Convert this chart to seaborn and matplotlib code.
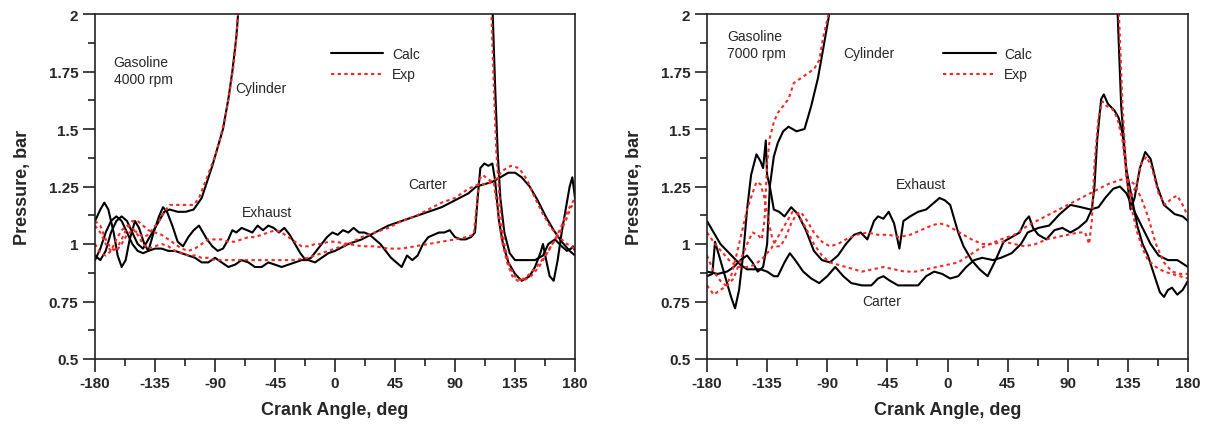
import numpy as np
import pandas as pd
import matplotlib
matplotlib.use("Agg")
import matplotlib.pyplot as plt
import seaborn as sns
from matplotlib.lines import Line2D
from matplotlib.ticker import MultipleLocator, FuncFormatter

# ---------------- data ----------------
# ---- 4000 rpm ----
l_cyl_calc_a = [-180, -176, -172, -168, -164, -160, -156, -152, -148, -144, -140, -136, -132, -128, -124, -118, -112, -106, -100, -96, -92, -88, -84, -80, -77, -74, -72,
                118, 120, 122, 124, 127, 131, 135, 142, 150, 156, 160, 165, 170, 174, 177, 178.5, 180]
l_cyl_calc_p = [0.95, 0.93, 0.97, 1.05, 1.10, 1.12, 1.10, 1.05, 1.00, 0.98, 1.02, 1.06, 1.10, 1.14, 1.15, 1.14, 1.14, 1.15, 1.20, 1.27, 1.34, 1.42, 1.50, 1.63, 1.75, 1.90, 2.05,
                2.05, 1.70, 1.40, 1.20, 1.05, 0.96, 0.93, 0.93, 0.93, 0.95, 1.00, 1.02, 0.99, 0.97, 0.98, 0.99, 0.97]
l_cyl_exp_a = [-180, -176, -172, -168, -164, -160, -156, -152, -148, -144, -140, -136, -132, -128, -124, -118, -112, -106, -102, -98, -94, -90, -86, -82, -79, -76, -74, -72,
               117, 119, 121, 124, 127, 131, 136, 141, 147, 153, 158, 163, 168, 173, 177, 180]
l_cyl_exp_p = [1.10, 1.08, 1.02, 0.98, 0.97, 1.00, 1.04, 1.06, 1.05, 1.03, 1.04, 1.07, 1.10, 1.14, 1.17, 1.17, 1.17, 1.17, 1.20, 1.26, 1.32, 1.38, 1.46, 1.56, 1.66, 1.78, 1.90, 2.05,
               2.05, 1.70, 1.40, 1.15, 1.00, 0.90, 0.85, 0.84, 0.86, 0.90, 0.95, 1.00, 1.04, 1.10, 1.16, 1.18]
l_exh_calc_a = [-180, -176, -173, -170, -166, -163, -160, -157, -154, -150, -147, -143, -140, -136, -132, -129, -126, -122, -118, -114, -110, -106, -102, -99, -96, -92, -88, -84,
                -80, -77, -74, -70, -66, -62, -58, -54, -50, -46, -42, -38, -34, -30, -26, -22, -18, -14, -10, -6, -2, 2, 6, 10, 14, 18, 22, 26, 30, 34, 38, 42, 46, 50,
                54, 58, 62, 66, 70, 74, 78, 82, 86, 90, 94, 98, 102, 105, 107, 109, 112, 115, 118, 120, 123, 126, 130, 135, 140, 146, 150, 154, 156, 158, 161, 164,
                167, 170, 173, 176, 178, 180]
l_exh_calc_p = [1.10, 1.15, 1.18, 1.15, 1.05, 0.95, 0.90, 0.93, 1.02, 1.10, 1.07, 1.00, 0.97, 1.05, 1.12, 1.16, 1.14, 1.08, 1.01, 0.99, 1.03, 1.06, 1.08, 1.05, 1.02, 0.99, 0.97, 0.98,
                1.02, 1.06, 1.05, 1.07, 1.06, 1.05, 1.08, 1.06, 1.08, 1.07, 1.05, 1.07, 1.04, 1.00, 0.96, 0.93, 0.94, 0.97, 1.00, 1.03, 1.05, 1.04, 1.06, 1.05, 1.07, 1.05, 1.05, 1.04, 1.02, 1.00, 0.97, 0.94, 0.92, 0.90,
                0.95, 0.93, 0.95, 1.00, 1.03, 1.04, 1.05, 1.05, 1.06, 1.03, 1.02, 1.02, 1.03, 1.05, 1.20, 1.33, 1.35, 1.34, 1.35, 1.28, 1.10, 1.00, 0.92, 0.87, 0.84, 0.86, 0.90, 0.96, 1.00, 0.94, 0.86, 0.84,
                0.93, 1.05, 1.15, 1.25, 1.29, 1.20]
l_exh_exp_a = [-180, -176, -172, -168, -164, -160, -156, -152, -148, -144, -140, -135, -130, -125, -120, -115, -110, -105, -100, -95, -90, -85, -80, -75, -70, -65, -60, -55,
               -50, -45, -40, -35, -30, -25, -20, -15, -10, -5, 0, 10, 20, 30, 40, 50, 60, 70, 80, 90, 98, 104, 106, 108, 111, 115, 119, 122, 125, 129, 133, 137, 142,
               148, 154, 160, 165, 170, 175, 180]
l_exh_exp_p = [1.08, 1.05, 1.00, 0.97, 0.98, 1.02, 1.07, 1.10, 1.10, 1.08, 1.06, 1.05, 1.04, 1.02, 1.00, 0.98, 0.97, 0.98, 1.00, 1.02, 1.02, 1.02, 1.01, 1.01, 1.02, 1.03, 1.03, 1.04,
               1.05, 1.06, 1.05, 1.03, 1.01, 0.99, 0.99, 1.00, 1.00, 1.01, 1.01, 1.00, 0.99, 0.99, 0.98, 0.98, 0.99, 1.00, 1.01, 1.02, 1.03, 1.04, 1.15, 1.28, 1.30, 1.28, 1.27, 1.15, 1.02, 0.92, 0.86, 0.84, 0.85,
               0.88, 0.92, 0.97, 1.02, 1.08, 1.15, 1.20]
l_car_calc_a = [-180, -176, -172, -168, -164, -160, -156, -152, -148, -144, -140, -135, -130, -125, -120, -115, -110, -105, -100, -95, -90, -85, -80, -75, -70, -65, -60, -55,
                -50, -45, -40, -35, -30, -25, -20, -15, -10, -5, 0, 10, 20, 30, 40, 50, 60, 70, 80, 90, 100, 106, 112, 118, 124, 130, 135, 140, 146, 152, 158, 164,
                170, 176, 180]
l_car_calc_p = [0.93, 0.98, 1.05, 1.10, 1.12, 1.10, 1.05, 1.00, 0.97, 0.96, 0.97, 0.98, 0.98, 0.97, 0.97, 0.96, 0.95, 0.94, 0.92, 0.92, 0.94, 0.92, 0.90, 0.91, 0.93, 0.92, 0.90, 0.90,
                0.92, 0.91, 0.90, 0.91, 0.92, 0.93, 0.93, 0.92, 0.94, 0.96, 0.97, 1.00, 1.02, 1.05, 1.08, 1.10, 1.12, 1.14, 1.16, 1.19, 1.22, 1.25, 1.26, 1.27, 1.29, 1.31, 1.31, 1.29, 1.25, 1.19, 1.12, 1.06,
                1.01, 0.97, 0.95]
l_car_exp_a = [-180, -176, -172, -168, -164, -160, -156, -152, -148, -144, -140, -135, -130, -125, -120, -115, -110, -105, -100, -95, -90, -80, -70, -60, -50, -40, -30, -20,
               -10, 0, 10, 20, 30, 40, 50, 60, 70, 80, 90, 100, 108, 114, 120, 126, 132, 138, 144, 150, 156, 162, 168, 174, 180]
l_car_exp_p = [1.00, 0.96, 0.95, 0.97, 1.02, 1.06, 1.08, 1.07, 1.04, 1.00, 0.98, 0.99, 1.00, 0.99, 0.97, 0.96, 0.95, 0.95, 0.94, 0.94, 0.93, 0.93, 0.93, 0.93, 0.93, 0.93, 0.93, 0.94,
               0.96, 0.98, 1.00, 1.03, 1.05, 1.07, 1.10, 1.12, 1.15, 1.18, 1.20, 1.24, 1.26, 1.26, 1.28, 1.32, 1.34, 1.33, 1.28, 1.20, 1.13, 1.07, 1.03, 1.00, 0.98]

# ---- 7000 rpm ----
r_cyl_calc_a = [-180, -172, -165, -160, -155, -150, -146, -142, -138, -135, -133, -130, -127, -123, -119, -113, -107, -102, -97, -93, -90, -87,
                127, 130, 134, 137, 140, 144, 148, 152, 157, 162, 170, 176, 180]
r_cyl_calc_p = [0.88, 0.87, 0.88, 0.90, 0.93, 0.95, 0.92, 0.88, 0.90, 1.00, 1.25, 1.38, 1.44, 1.49, 1.51, 1.49, 1.50, 1.60, 1.72, 1.85, 1.95, 2.05,
                2.05, 1.60, 1.30, 1.15, 1.20, 1.33, 1.40, 1.37, 1.25, 1.17, 1.13, 1.12, 1.10]
r_cyl_exp_a = [-180, -175, -170, -165, -160, -155, -150, -146, -142, -139, -137, -135, -133, -130, -127, -123, -119, -115, -110, -105, -100, -96, -93, -89, -87,
               128, 131, 134, 137, 141, 145, 149, 153, 158, 163, 168, 172, 176, 180]
r_cyl_exp_p = [0.82, 0.78, 0.80, 0.82, 0.85, 0.93, 1.00, 1.05, 1.04, 1.02, 1.10, 1.35, 1.46, 1.53, 1.57, 1.60, 1.63, 1.70, 1.72, 1.74, 1.76, 1.80, 1.90, 2.00, 2.05,
               2.05, 1.60, 1.30, 1.20, 1.25, 1.35, 1.38, 1.33, 1.22, 1.17, 1.20, 1.21, 1.17, 1.12]
r_exh_calc_a = [-180, -176, -174, -171, -166, -162, -159, -156, -153, -150, -147, -143, -140, -138, -136, -135, -133, -130, -126, -122, -117, -112, -106, -100, -94, -88,
                -82, -76, -70, -65, -60, -55, -52, -48, -44, -40, -36, -33, -28, -22, -16, -10, -6, -2, 2, 8, 12, 18, 24, 30, 36, 42, 48, 54, 58, 61, 64, 68, 74, 80,
                86, 92, 98, 104, 108, 110, 112, 115, 117, 120, 125, 128, 131, 134, 138, 142, 146, 150, 155, 159, 162, 165, 168, 172, 176, 180]
r_exh_calc_p = [0.86, 0.87, 1.01, 0.95, 0.85, 0.77, 0.72, 0.80, 0.95, 1.15, 1.30, 1.39, 1.36, 1.33, 1.45, 1.30, 1.25, 1.15, 1.14, 1.12, 1.16, 1.13, 1.06, 0.97, 0.93, 0.92,
                0.95, 1.00, 1.04, 1.05, 1.02, 1.10, 1.12, 1.11, 1.14, 1.09, 0.98, 1.10, 1.12, 1.14, 1.15, 1.18, 1.20, 1.19, 1.17, 1.05, 0.99, 0.93, 0.89, 0.86, 0.93, 1.01, 1.03, 1.05, 1.10, 1.12, 1.07, 1.04, 1.02, 1.06,
                1.07, 1.05, 1.07, 1.10, 1.15, 1.25, 1.45, 1.63, 1.65, 1.61, 1.58, 1.55, 1.48, 1.32, 1.20, 1.08, 1.00, 0.95, 0.86, 0.79, 0.77, 0.80, 0.81, 0.78, 0.80, 0.84]
r_exh_exp_a = [-180, -175, -170, -166, -162, -158, -154, -150, -146, -143, -140, -137, -134, -131, -128, -125, -121, -117, -113, -110, -105, -100, -94, -88, -82, -76,
               -68, -60, -52, -44, -36, -28, -20, -12, -6, 0, 6, 12, 18, 26, 34, 42, 50, 58, 66, 74, 82, 90, 98, 103, 106, 108, 110, 113, 116, 119, 123, 127, 131, 134,
               138, 142, 146, 150, 156, 162, 168, 174, 180]
r_exh_exp_p = [0.95, 0.88, 0.84, 0.82, 0.86, 0.95, 1.05, 1.15, 1.22, 1.27, 1.26, 1.20, 1.10, 1.02, 0.99, 0.99, 1.03, 1.09, 1.13, 1.14, 1.10, 1.05, 1.01, 0.99, 1.00, 1.02,
               1.04, 1.05, 1.04, 1.04, 1.03, 1.04, 1.06, 1.08, 1.09, 1.08, 1.06, 1.04, 1.02, 1.00, 1.00, 1.01, 1.00, 0.99, 1.00, 1.02, 1.03, 1.04, 1.05, 1.05, 1.00, 1.10, 1.35, 1.55, 1.62, 1.60, 1.59, 1.55, 1.45, 1.30,
               1.15, 1.05, 0.98, 0.93, 0.90, 0.88, 0.87, 0.86, 0.85]
r_car_calc_a = [-180, -175, -170, -165, -160, -155, -150, -145, -140, -135, -130, -127, -122, -118, -114, -108, -102, -96, -90, -84, -78, -72, -64, -57, -52, -48, -43,
                -37, -30, -22, -16, -10, -4, 2, 8, 14, 20, 26, 34, 40, 48, 55, 60, 68, 76, 84, 92, 100, 107, 113, 118, 124, 129, 134, 140, 146, 152, 158, 165, 172, 180]
r_car_calc_p = [1.10, 1.05, 1.00, 0.97, 0.94, 0.91, 0.89, 0.89, 0.89, 0.88, 0.86, 0.86, 0.92, 0.96, 0.93, 0.88, 0.85, 0.83, 0.86, 0.90, 0.86, 0.83, 0.82, 0.82, 0.85, 0.86, 0.84,
                0.82, 0.82, 0.82, 0.86, 0.88, 0.87, 0.85, 0.86, 0.90, 0.93, 0.94, 0.93, 0.94, 0.96, 1.00, 1.05, 1.07, 1.08, 1.13, 1.17, 1.16, 1.15, 1.16, 1.20, 1.24, 1.25, 1.22, 1.14, 1.07, 1.00, 0.95, 0.93, 0.93, 0.90]
r_car_exp_a = [-180, -174, -168, -162, -156, -150, -144, -138, -132, -126, -120, -116, -112, -106, -100, -94, -88, -82, -76, -70, -64, -56, -48, -40, -32, -24, -16, -8,
               0, 8, 16, 24, 32, 40, 50, 60, 70, 80, 90, 100, 110, 120, 130, 135, 140, 145, 150, 156, 162, 168, 174, 180]
r_car_exp_p = [1.05, 1.00, 0.96, 0.92, 0.90, 0.90, 0.91, 0.94, 0.98, 1.04, 1.10, 1.14, 1.13, 1.07, 1.00, 0.95, 0.92, 0.91, 0.90, 0.89, 0.88, 0.89, 0.90, 0.89, 0.88, 0.88, 0.89, 0.90,
               0.91, 0.92, 0.95, 0.98, 1.00, 1.02, 1.04, 1.08, 1.11, 1.14, 1.17, 1.20, 1.23, 1.26, 1.28, 1.28, 1.26, 1.20, 1.12, 1.00, 0.92, 0.88, 0.87, 0.87]

panel_titles = ["Gasoline\n4000 rpm", "Gasoline\n7000 rpm"]
x_ticks = [-180, -135, -90, -45, 0, 45, 90, 135, 180]
y_ticks = [0.5, 0.75, 1, 1.25, 1.5, 1.75, 2]


def build(traces):
    rows = []
    for name, src, a, p in traces:
        for ai, pi in zip(a, p):
            rows.append({"angle": ai, "pressure": pi, "source": src, "trace": name + src})
    return pd.DataFrame(rows)


left_df = build([
    ("Cylinder", "Calc", l_cyl_calc_a, l_cyl_calc_p), ("Cylinder", "Exp", l_cyl_exp_a, l_cyl_exp_p),
    ("Exhaust", "Calc", l_exh_calc_a, l_exh_calc_p), ("Exhaust", "Exp", l_exh_exp_a, l_exh_exp_p),
    ("Carter", "Calc", l_car_calc_a, l_car_calc_p), ("Carter", "Exp", l_car_exp_a, l_car_exp_p),
])
right_df = build([
    ("Cylinder", "Calc", r_cyl_calc_a, r_cyl_calc_p), ("Cylinder", "Exp", r_cyl_exp_a, r_cyl_exp_p),
    ("Exhaust", "Calc", r_exh_calc_a, r_exh_calc_p), ("Exhaust", "Exp", r_exh_exp_a, r_exh_exp_p),
    ("Carter", "Calc", r_car_calc_a, r_car_calc_p), ("Carter", "Exp", r_car_exp_a, r_car_exp_p),
])

sns.set_theme(style="ticks")
plt.rcParams["font.family"] = ["Liberation Sans", "DejaVu Sans"]
plt.rcParams["axes.unicode_minus"] = False

RED = "#f02a2a"
fig = plt.figure(figsize=(12.08, 4.27), dpi=100)
ax_l = fig.add_axes([95 / 1208, 67 / 427, 480 / 1208, 345 / 427])
ax_r = fig.add_axes([707 / 1208, 67 / 427, 481 / 1208, 345 / 427])

labels = {
    0: [("Cylinder", -75, 1.68), ("Exhaust", -70, 1.14), ("Carter", 55, 1.26)],
    1: [("Cylinder", -78, 1.83), ("Exhaust", -39, 1.26), ("Carter", -64, 0.75)],
}
title_pos = [(-166, 1.685), (-165, 1.80)]

for i, (ax, df) in enumerate([(ax_l, left_df), (ax_r, right_df)]):
    sns.lineplot(data=df, x="angle", y="pressure", hue="source", style="source", units="trace",
                 estimator=None, sort=False, palette={"Calc": "black", "Exp": RED},
                 dashes={"Calc": "", "Exp": (1.6, 1.6)}, linewidth=1.5, legend=False, ax=ax)
    ax.set_xlim(-180, 180)
    ax.set_ylim(0.5, 2)
    ax.set_xticks(x_ticks)
    ax.set_yticks(y_ticks)
    ax.yaxis.set_major_formatter(FuncFormatter(lambda v, p: ("%g" % v)))
    ax.xaxis.set_minor_locator(MultipleLocator(22.5))
    ax.yaxis.set_minor_locator(MultipleLocator(0.125))
    ax.tick_params(axis="both", which="major", direction="out", length=9, width=1.2,
                   labelsize=11, pad=3, color="#222222")
    ax.tick_params(axis="both", which="minor", direction="out", length=5, width=1.2, color="#222222")
    for lab in ax.get_xticklabels() + ax.get_yticklabels():
        lab.set_fontweight("bold")
    ax.set_xlabel("Crank Angle, deg", fontsize=13, fontweight="bold", labelpad=8)
    ax.set_ylabel("Pressure, bar", fontsize=13, fontweight="bold", labelpad=13)
    for sp in ax.spines.values():
        sp.set_visible(True)
        sp.set_linewidth(1.2)
        sp.set_color("#222222")
    tx, ty = title_pos[i]
    ax.text(tx, ty, panel_titles[i], fontsize=10, va="bottom", ha="left", linespacing=1.3)
    for txt, x, y in labels[i]:
        ax.text(x, y, txt, fontsize=10, va="center", ha="left")
    handles = [Line2D([], [], color="black", lw=1.5),
               Line2D([], [], color=RED, lw=1.5, dashes=(1.6, 1.6))]
    ax.legend(handles, ["Calc", "Exp"], loc="upper left", bbox_to_anchor=(0.465, 0.94),
              frameon=False, fontsize=10, handlelength=3.8, handletextpad=0.6, labelspacing=0.45)

fig.savefig("out.png", dpi=100)
